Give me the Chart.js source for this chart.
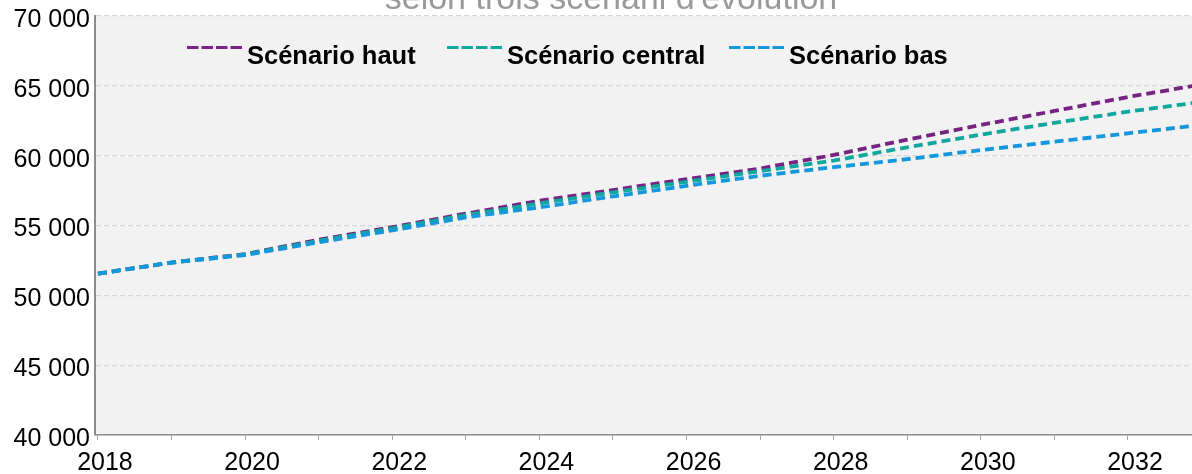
<!DOCTYPE html>
<html lang="fr">
<head>
<meta charset="utf-8">
<title>Scénarii d'évolution</title>
<script src="https://cdn.jsdelivr.net/npm/chart.js@4.4.1/dist/chart.umd.min.js"></script>
<style>
  html, body { margin: 0; padding: 0; background: #fff; }
  #wrap { width: 1192px; height: 474px; position: relative; }
</style>
</head>
<body>
<div id="wrap"><canvas id="chart"></canvas></div>
<script>
// Données
const years = [2018, 2019, 2020, 2021, 2022, 2023, 2024, 2025, 2026, 2027, 2028, 2029, 2030, 2031, 2032, 2033];
const scenarioHaut = [51550, 52350, 52950, 53980, 54880, 55850, 56770, 57540, 58320, 59080, 60050, 61150, 62200, 63200, 64200, 65100];
const scenarioCentral = [51550, 52350, 52930, 53900, 54800, 55750, 56580, 57370, 58130, 58900, 59650, 60600, 61500, 62350, 63150, 63850];
const scenarioBas = [51550, 52350, 52880, 53800, 54650, 55580, 56300, 57080, 57840, 58560, 59180, 59750, 60400, 61000, 61600, 62200];
const seriesNames = ['Scénario haut', 'Scénario central', 'Scénario bas'];
const seriesColors = ['#762382', '#0fa79e', '#1597dc'];
const yTicks = [40000, 45000, 50000, 55000, 60000, 65000, 70000];
const titleText = "selon trois scénarii d'évolution";

const FONT = '"Liberation Sans", Arial, sans-serif';

function toPoints(vals) {
  return years.map((y, i) => ({ x: y, y: vals[i] }));
}

function formatNumber(v) {
  return String(v).replace(/\B(?=(\d{3})+(?!\d))/g, ' ');
}

// fond gris de la zone de tracé
const plotBackground = {
  id: 'plotBackground',
  beforeDraw(chart) {
    const a = chart.chartArea;
    const ctx = chart.ctx;
    ctx.save();
    ctx.fillStyle = '#f2f2f2';
    ctx.fillRect(a.left, a.top, a.right - a.left, a.bottom - a.top);
    ctx.restore();
  }
};

// titre (coupé en haut, comme sur l'original)
const cutTitle = {
  id: 'cutTitle',
  afterDraw(chart) {
    const ctx = chart.ctx;
    ctx.save();
    ctx.font = '34px ' + FONT;
    ctx.fillStyle = '#999999';
    ctx.textAlign = 'center';
    ctx.textBaseline = 'alphabetic';
    ctx.fillText(titleText, 611, 9);
    ctx.restore();
  }
};

// légende dans la zone de tracé
const innerLegend = {
  id: 'innerLegend',
  afterDraw(chart) {
    const ctx = chart.ctx;
    const starts = [187, 447, 729];
    ctx.save();
    chart.data.datasets.forEach((ds, i) => {
      const x = starts[i];
      ctx.strokeStyle = ds.borderColor;
      ctx.lineWidth = 3.2;
      ctx.setLineDash([11.5, 3]);
      ctx.beginPath();
      ctx.moveTo(x, 47.5);
      ctx.lineTo(x + 55, 47.5);
      ctx.stroke();
      ctx.setLineDash([]);
      ctx.fillStyle = '#000';
      ctx.font = 'bold 25.5px ' + FONT;
      ctx.textAlign = 'left';
      ctx.textBaseline = 'alphabetic';
      ctx.fillText(ds.label, x + 60, 64);
    });
    ctx.restore();
  }
};

const datasets = [scenarioHaut, scenarioCentral, scenarioBas].map((vals, i) => ({
  label: seriesNames[i],
  data: toPoints(vals),
  borderColor: seriesColors[i],
  backgroundColor: seriesColors[i],
  borderWidth: 3.8,
  borderDash: [9, 5],
  pointRadius: 0,
  tension: 0,
  fill: false,
  order: 3 - i
}));

new Chart(document.getElementById('chart'), {
  type: 'line',
  data: { datasets },
  options: {
    responsive: true,
    maintainAspectRatio: false,
    animation: false,
    layout: { padding: { top: 16, right: 0, left: 0, bottom: 0 } },
    plugins: {
      legend: { display: false },
      title: { display: false },
      tooltip: { enabled: false }
    },
    scales: {
      x: {
        type: 'linear',
        min: 2017.96,
        max: 2032.87,
        afterFit(s) { s.height = 39; s.paddingLeft = 0; s.paddingRight = 0; },
        afterBuildTicks(s) { s.ticks = years.filter(y => y <= 2032).map(y => ({ value: y })); },
        ticks: {
          autoSkip: false,
          maxRotation: 0,
          padding: 8,
          labelOffset: 7,
          color: '#000',
          font: { family: FONT, size: 25 },
          callback: v => (v % 2 === 0 ? String(v) : '')
        },
        grid: { drawOnChartArea: false, drawTicks: true, tickLength: 5, color: '#a6a6a6' },
        border: { display: true, color: '#8c8c8c', width: 1.5 }
      },
      y: {
        min: 40000,
        max: 70000,
        afterFit(s) { s.width = 95; s.paddingTop = 0; s.paddingBottom = 0; },
        afterBuildTicks(s) { s.ticks = yTicks.map(v => ({ value: v })); },
        ticks: {
          padding: 5,
          labelOffset: 4,
          color: '#000',
          font: { family: FONT, size: 25 },
          callback: v => formatNumber(v)
        },
        grid: { drawTicks: false, color: '#d6d6d6', lineWidth: 1.2 },
        border: { display: true, color: '#8c8c8c', width: 2, dash: [5, 3] }
      }
    }
  },
  plugins: [plotBackground, cutTitle, innerLegend]
});
</script>
</body>
</html>
